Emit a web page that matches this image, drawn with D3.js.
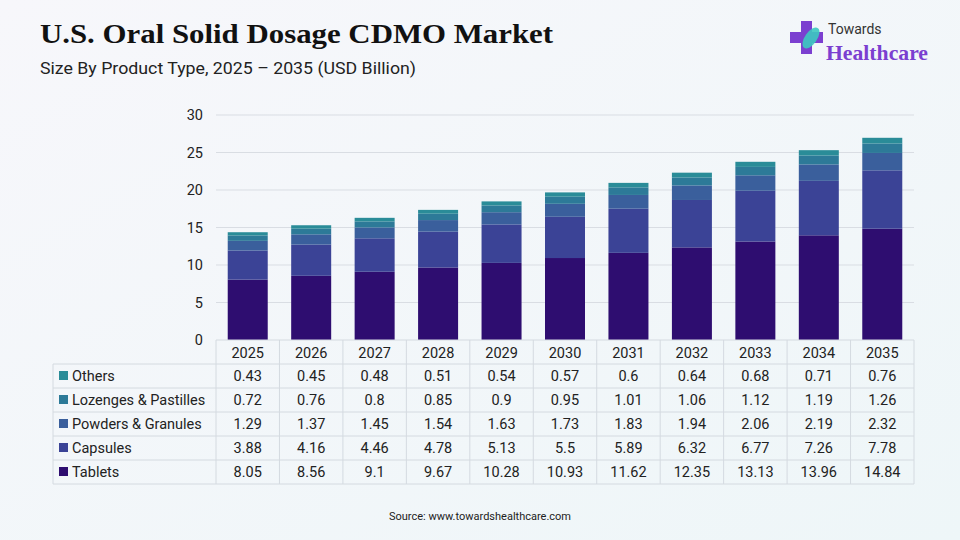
<!DOCTYPE html><html><head><meta charset="utf-8">
<script src="https://cdn.jsdelivr.net/npm/d3@7"></script>
<style>body{margin:0}svg{display:block}</style></head><body><svg id="c" width="960" height="540"></svg>
<script>
const years=["2025","2026","2027","2028","2029","2030","2031","2032","2033","2034","2035"];
const seriesNames=["Tablets","Capsules","Powders & Granules","Lozenges & Pastilles","Others"];
const tablets=[8.05,8.56,9.1,9.67,10.28,10.93,11.62,12.35,13.13,13.96,14.84];
const capsules=[3.88,4.16,4.46,4.78,5.13,5.5,5.89,6.32,6.77,7.26,7.78];
const powders=[1.29,1.37,1.45,1.54,1.63,1.73,1.83,1.94,2.06,2.19,2.32];
const lozenges=[0.72,0.76,0.8,0.85,0.9,0.95,1.01,1.06,1.12,1.19,1.26];
const others=[0.43,0.45,0.48,0.51,0.54,0.57,0.6,0.64,0.68,0.71,0.76];
const yTicks=[0,5,10,15,20,25,30];
const colors=["#2e0d70","#3b4396","#3a5f9c","#2d7a98","#2a8c98"];
const seriesVals=[tablets,capsules,powders,lozenges,others];

const svg=d3.select("#c");
const defs=svg.append("defs");
const g=defs.append("linearGradient").attr("id","bg").attr("x1",0).attr("y1",0).attr("x2",1).attr("y2",1);
g.append("stop").attr("offset","0").attr("stop-color","#f7f7fb");
g.append("stop").attr("offset","1").attr("stop-color","#eef6f8");
svg.append("rect").attr("width",960).attr("height",540).attr("fill","url(#bg)");

svg.append("text").attr("x",40).attr("y",43).attr("font-family","Liberation Serif, serif").attr("font-weight","bold").attr("font-size",28).attr("fill","#111").attr("textLength",513).attr("lengthAdjust","spacingAndGlyphs").text("U.S. Oral Solid Dosage CDMO Market");
svg.append("text").attr("x",40).attr("y",74).attr("font-family","Roboto, sans-serif").attr("font-size",16).attr("fill","#222").attr("textLength",376).attr("lengthAdjust","spacingAndGlyphs").text("Size By Product Type, 2025 – 2035 (USD Billion)");

const lg=svg.append("g");
lg.append("path").attr("d","M790 32h11v-11h11v11h11v11h-11v11h-11v-11h-11z").attr("fill","#7b3fd0");
lg.append("ellipse").attr("cx",811).attr("cy",38).attr("rx",6).attr("ry",12).attr("transform","rotate(35 811 38)").attr("fill","#3cc9c0").attr("opacity",0.9);
lg.append("text").attr("x",828).attr("y",34).attr("font-family","Roboto, sans-serif").attr("font-size",14).attr("fill","#333").text("Towards");
lg.append("text").attr("x",826).attr("y",60).attr("font-family","Liberation Serif, serif").attr("font-weight","bold").attr("font-size",22).attr("fill","#7b3fd0").attr("textLength",102).attr("lengthAdjust","spacingAndGlyphs").text("Healthcare");

const pLeft=216,pRight=914,pTop=115,pBase=340;
const x=d3.scaleBand().domain(years).range([pLeft,pRight]).paddingInner(0).paddingOuter(0);
const y=d3.scaleLinear().domain([0,30]).range([pBase,pTop]);
const grid=svg.append("g");
yTicks.forEach(t=>{ if(t>0) grid.append("line").attr("x1",pLeft).attr("x2",pRight).attr("y1",y(t)).attr("y2",y(t)).attr("stroke","#d9dde3");
 svg.append("text").attr("x",203).attr("y",y(t)+5).attr("text-anchor","end").attr("font-family","Roboto, sans-serif").attr("font-size",14.5).attr("fill","#222").text(t);});

const rows=years.map((yr,i)=>{const o={year:yr};seriesNames.forEach((s,j)=>o[s]=seriesVals[j][i]);return o;});
const stack=d3.stack().keys(seriesNames)(rows);
const bw=40;
stack.forEach((layer,j)=>{svg.append("g").attr("fill",colors[j]).selectAll("rect").data(layer).join("rect")
 .attr("x",d=>x(d.data.year)+x.bandwidth()/2-bw/2).attr("width",bw)
 .attr("y",d=>y(d[1])).attr("height",d=>y(d[0])-y(d[1]));});

const T=svg.append("g").attr("font-family","Roboto, sans-serif").attr("font-size",14.5).attr("fill","#222");
const rowTop=[340,364,388,412,436,460,484];
const lineC="#d4dae0";
years.forEach((yr,i)=>T.append("line").attr("x1",x(yr)).attr("x2",x(yr)).attr("y1",340).attr("y2",484).attr("stroke",lineC));
T.append("line").attr("x1",pRight).attr("x2",pRight).attr("y1",340).attr("y2",484).attr("stroke",lineC);
T.append("line").attr("x1",53).attr("x2",53).attr("y1",364).attr("y2",484).attr("stroke",lineC);
T.append("line").attr("x1",pLeft).attr("x2",pRight).attr("y1",340).attr("y2",340).attr("stroke",lineC);
rowTop.slice(1).forEach(r=>T.append("line").attr("x1",53).attr("x2",pRight).attr("y1",r).attr("y2",r).attr("stroke",lineC));
years.forEach(yr=>T.append("text").attr("x",x(yr)+x.bandwidth()/2).attr("y",358).attr("text-anchor","middle").text(yr));
const order=[4,3,2,1,0];
order.forEach((j,ri)=>{const cy=rowTop[ri+1]+17;
 T.append("rect").attr("x",59).attr("y",cy-10).attr("width",9).attr("height",9).attr("fill",colors[j]);
 T.append("text").attr("x",72).attr("y",cy).text(seriesNames[j]);
 years.forEach((yr,i)=>T.append("text").attr("x",x(yr)+x.bandwidth()/2).attr("y",cy).attr("text-anchor","middle").text(seriesVals[j][i]));});

svg.append("text").attr("x",480).attr("y",520).attr("text-anchor","middle").attr("font-family","Roboto, sans-serif").attr("font-size",11).attr("fill","#222").text("Source: www.towardshealthcare.com");
</script></body></html>
